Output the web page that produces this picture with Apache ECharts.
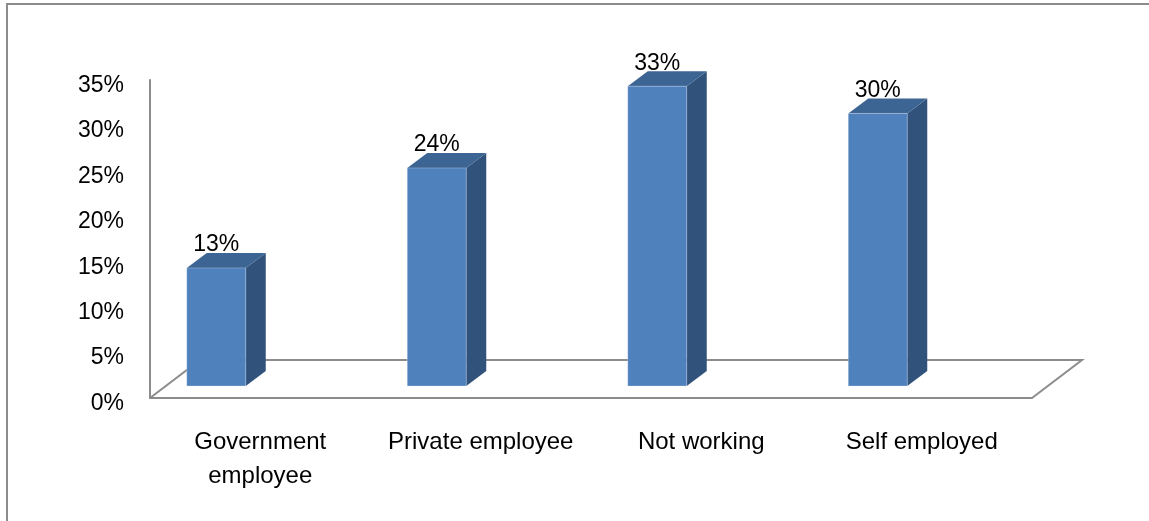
<!DOCTYPE html>
<html>
<head>
<meta charset="utf-8">
<script src="https://cdn.jsdelivr.net/npm/echarts@6/dist/echarts.min.js"></script>
<style>
  html, body { margin: 0; padding: 0; background: #fff; }
  #main { position: absolute; left: 0; top: 0; width: 1149px; height: 521px; }
  #frame { position: absolute; left: 6px; top: 3px; width: 1143px; height: 516px;
           border-top: 2px solid #8c8c8c; border-left: 2px solid #8c8c8c;
           border-bottom: 1px solid #eeeeee; pointer-events: none; }
</style>
</head>
<body>
<div id="main"></div>
<div id="frame"></div>
<script>
// 数据
var categories = ['Government\nemployee', 'Private employee', 'Not working', 'Self employed'];
var values = [13, 24, 33, 30];
var yTicks = [0, 5, 10, 15, 20, 25, 30, 35];

var FONT = 'Liberation Sans';
var frontColor = '#4F81BD', topColor = '#3D6594', sideColor = '#31527B';
var depthX = 20, depthY = 15;   // 柱子的立体厚度
var floorX = 50, floorY = 38;   // 底面进深

var myChart = echarts.init(document.getElementById('main'));

// 柱子(正面+顶面+侧面+数值)
function renderBar(params, api) {
	var i = api.value(0);
	var v = api.value(1);
	var p = api.coord([i, v]);
	var p0 = api.coord([i, 0]);
	var cx = p0[0] - 44;
	var w = 59;
	var x1 = cx - w / 2, x2 = cx + w / 2;
	var yb = p0[1] - 12, yt = p[1] - 12;
	return {
		type: 'group',
		children: [
			{ type: 'polygon', shape: { points: [[x2, yb], [x2 + depthX, yb - depthY], [x2 + depthX, yt - depthY], [x2, yt]] },
			  style: { fill: sideColor } },
			{ type: 'polygon', shape: { points: [[x1, yt], [x1 + depthX, yt - depthY], [x2 + depthX, yt - depthY], [x2, yt]] },
			  style: { fill: topColor } },
			{ type: 'rect', shape: { x: x1, y: yt, width: w, height: yb - yt },
			  style: { fill: frontColor, stroke: 'rgba(255,255,255,0.25)', lineWidth: 1 } },
			{ type: 'text', x: cx, y: yt - 23,
			  style: { text: v + '%', fill: '#000', font: '23px "' + FONT + '"', align: 'center', verticalAlign: 'middle' } }
		]
	};
}

// 底面
function renderFloor(params, api) {
	var cs = params.coordSys;
	var x0 = cs.x, x1 = cs.x + cs.width, y0 = cs.y + cs.height;
	var st = { stroke: '#8c8c8c', lineWidth: 2, fill: null };
	return {
		type: 'group',
		children: [
			{ type: 'polyline', shape: { points: [[x0, y0], [x0 + floorX, y0 - floorY], [x1 + floorX, y0 - floorY], [x1, y0]] }, style: st }
		]
	};
}

var option = {
	animation: false,
	backgroundColor: '#fff',
	grid: { left: 150, right: 117, top: 80, bottom: 123 },
	xAxis: {
		type: 'category',
		data: categories,
		axisLine: { show: true, lineStyle: { color: '#8c8c8c', width: 2 } },
		axisTick: { show: false },
		axisLabel: { color: '#000', fontSize: 24, fontFamily: FONT, margin: 27, lineHeight: 34, interval: 0 }
	},
	yAxis: {
		type: 'value',
		min: 0, max: 35, interval: 5,
		axisLine: { show: true, lineStyle: { color: '#8c8c8c', width: 2 } },
		axisTick: { show: false },
		splitLine: { show: false },
		axisLabel: {
			color: '#000', fontSize: 23, fontFamily: FONT, margin: 26,
			verticalAlign: 'top', lineHeight: 11,
			formatter: function (val) { return yTicks.indexOf(val) >= 0 ? val + '%' : ''; }
		}
	},
	series: [
		{ type: 'custom', renderItem: renderFloor, data: [[0, 0]], z: 1, silent: true },
		{ type: 'custom', renderItem: renderBar, z: 2,
		  data: values.map(function (v, i) { return [i, v]; }) }
	]
};
myChart.setOption(option);
</script>
</body>
</html>
